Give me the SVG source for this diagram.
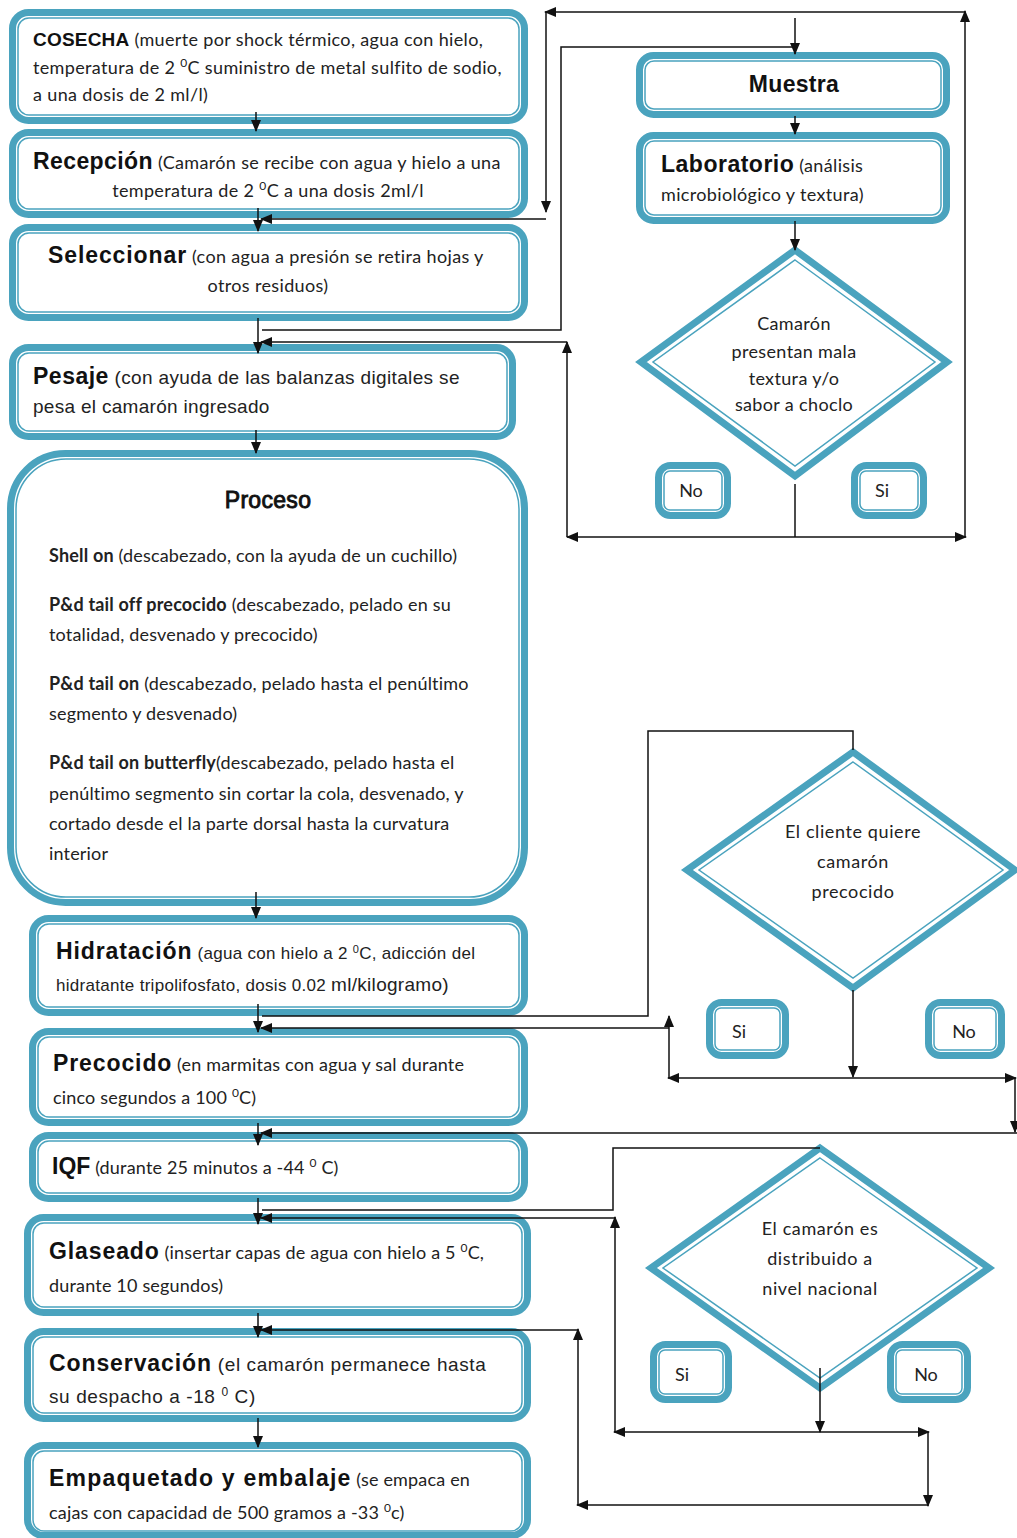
<svg xmlns="http://www.w3.org/2000/svg" width="1017" height="1538" viewBox="0 0 1017 1538">
<style>
.o{fill:#fff;stroke:#4aa3be;stroke-width:7}
.i{fill:none;stroke:#4aa3be;stroke-width:1.5}
.c{fill:none;stroke:#111;stroke-width:1.5}
.h{font-family:"Liberation Sans",Arial,sans-serif;font-weight:bold;fill:#111;font-size:23px;letter-spacing:0.9px}
.b{font-family:Lato,"Liberation Sans",sans-serif;fill:#222;font-size:18px}
.a{font-family:"Liberation Sans",Arial,sans-serif;fill:#222}
.bb{font-weight:bold}
.w1{letter-spacing:0.35px}
.w2{letter-spacing:0.18px}
</style>
<defs>
<marker id="ar" markerWidth="12" markerHeight="10" refX="11" refY="5" orient="auto" markerUnits="userSpaceOnUse">
<path d="M0,0 L12,5 L0,10 z" fill="#111"/>
</marker>
</defs>
<rect width="1017" height="1538" fill="#fff"/>

<g id="cosecha">
<rect class="o" x="12.5" y="12.5" width="512" height="108" rx="16"/>
<rect class="i" x="18" y="18" width="501" height="97" rx="11"/>
<text x="33" y="46"><tspan class="h" style="font-size:19px;letter-spacing:0.2px">COSECHA</tspan><tspan class="b w1"> (muerte por shock térmico, agua con hielo,</tspan></text>
<text class="b w1" x="33" y="74">temperatura de 2 <tspan font-size="12" baseline-shift="super">0</tspan>C  suministro de metal sulfito de sodio,</text>
<text class="b w1" x="33" y="101">a una dosis de 2 ml/l)</text>
</g>

<g id="recepcion">
<rect class="o" x="12.5" y="132.5" width="512" height="82" rx="16"/>
<rect class="i" x="18" y="138" width="501" height="71" rx="11"/>
<text x="33" y="169"><tspan class="h" style="letter-spacing:0.4px">Recepción</tspan><tspan class="b w1">  (Camarón se recibe con agua y hielo a una</tspan></text>
<text class="b w1" x="268" y="197" text-anchor="middle">temperatura de 2 <tspan font-size="12" baseline-shift="super">0</tspan>C a una dosis 2ml/l</text>
</g>

<g id="seleccionar">
<rect class="o" x="12.5" y="227.5" width="512" height="90" rx="16"/>
<rect class="i" x="18" y="233" width="501" height="79" rx="11"/>
<text x="48" y="263"><tspan class="h">Seleccionar</tspan><tspan class="b w1">  (con agua a presión se retira hojas y</tspan></text>
<text class="b w1" x="268" y="292" text-anchor="middle">otros residuos)</text>
</g>

<g id="pesaje">
<rect class="o" x="12.5" y="347.5" width="500" height="89" rx="16"/>
<rect class="i" x="18" y="353" width="489" height="78" rx="11"/>
<text x="33" y="384"><tspan class="h" style="letter-spacing:0.5px">Pesaje</tspan><tspan class="a" font-size="19" letter-spacing="0.35"> (con ayuda de las balanzas digitales se</tspan></text>
<text class="a" x="33" y="413" font-size="19" letter-spacing="0.3">pesa el camarón ingresado</text>
</g>

<g id="proceso">
<rect class="o" x="10.5" y="453.5" width="514" height="449" rx="55"/>
<rect class="i" x="16" y="459" width="503" height="438" rx="50"/>
<text class="h" x="268" y="508" text-anchor="middle" style="letter-spacing:0.3px;font-weight:normal" stroke="#111" stroke-width="0.9">Proceso</text>
<g class="b w2">
<text x="49" y="562"><tspan class="bb">Shell on</tspan> (descabezado, con la ayuda de un cuchillo)</text>
<text x="49" y="611"><tspan class="bb">P&amp;d tail off precocido</tspan> (descabezado, pelado en su</text>
<text x="49" y="641">totalidad, desvenado y precocido)</text>
<text x="49" y="690"><tspan class="bb">P&amp;d tail on</tspan> (descabezado, pelado hasta el penúltimo</text>
<text x="49" y="720">segmento y desvenado)</text>
<text x="49" y="769"><tspan class="bb">P&amp;d tail on butterfly</tspan>(descabezado, pelado hasta el</text>
<text x="49" y="800">penúltimo segmento  sin cortar la cola, desvenado, y</text>
<text x="49" y="830">cortado desde el la parte dorsal hasta la curvatura</text>
<text x="49" y="860">interior</text>
</g>
</g>

<g id="hidratacion">
<rect class="o" x="32.5" y="918.5" width="492" height="94" rx="16"/>
<rect class="i" x="38" y="924" width="481" height="83" rx="11"/>
<text x="56" y="959"><tspan class="h">Hidratación</tspan><tspan class="a" font-size="17" letter-spacing="0.3"> (agua con hielo a 2 <tspan font-size="11" baseline-shift="super">0</tspan>C, adicción del</tspan></text>
<text class="a" x="56" y="991" font-size="17" letter-spacing="0.3">hidratante tripolifosfato, dosis 0.02 <tspan font-size="19">ml/kilogramo)</tspan></text>
</g>

<g id="precocido">
<rect class="o" x="32.5" y="1031.5" width="492" height="91" rx="16"/>
<rect class="i" x="38" y="1037" width="481" height="80" rx="11"/>
<text x="53" y="1071"><tspan class="h">Precocido</tspan><tspan class="b w2"> (en marmitas con agua y sal durante</tspan></text>
<text class="b w2" x="53" y="1104">cinco segundos a 100 <tspan font-size="12" baseline-shift="super">0</tspan>C)</text>
</g>

<g id="iqf">
<rect class="o" x="32.5" y="1135.5" width="492" height="63" rx="16"/>
<rect class="i" x="38" y="1141" width="481" height="52" rx="11"/>
<text x="52" y="1174"><tspan class="h" style="letter-spacing:0px">IQF</tspan><tspan class="b w2"> (durante 25 minutos a -44 <tspan font-size="12" baseline-shift="super">0</tspan> C)</tspan></text>
</g>

<g id="glaseado">
<rect class="o" x="27.5" y="1217.5" width="500" height="95" rx="16"/>
<rect class="i" x="33" y="1223" width="489" height="84" rx="11"/>
<text x="49" y="1259"><tspan class="h">Glaseado</tspan><tspan class="b w2"> (insertar capas de agua con hielo  a 5 <tspan font-size="12" baseline-shift="super">0</tspan>C,</tspan></text>
<text class="b w2" x="49" y="1292">durante 10 segundos)</text>
</g>

<g id="conservacion">
<rect class="o" x="27.5" y="1331.5" width="500" height="87" rx="16"/>
<rect class="i" x="33" y="1337" width="489" height="76" rx="11"/>
<text x="49" y="1371"><tspan class="h">Conservación</tspan><tspan class="a" font-size="19" letter-spacing="0.6">  (el camarón permanece hasta</tspan></text>
<text class="a" x="49" y="1403" font-size="19" letter-spacing="0.6">su despacho a -18 <tspan font-size="12" baseline-shift="super">0</tspan> C)</text>
</g>

<g id="empaquetado">
<rect class="o" x="27.5" y="1445.5" width="500" height="90" rx="16"/>
<rect class="i" x="33" y="1451" width="489" height="80" rx="11"/>
<text x="49" y="1486"><tspan class="h" style="letter-spacing:1.2px">Empaquetado y embalaje</tspan><tspan class="b w2"> (se empaca en</tspan></text>
<text class="b w2" x="49" y="1519">cajas con capacidad de 500 gramos a -33 <tspan font-size="12" baseline-shift="super">0</tspan>c)</text>
</g>

<g id="muestra">
<rect class="o" x="639.5" y="55.5" width="307" height="59" rx="14"/>
<rect class="i" x="645" y="61" width="296" height="48" rx="9"/>
<text class="h" x="794" y="92" text-anchor="middle" style="letter-spacing:0.3px">Muestra</text>
</g>

<g id="laboratorio">
<rect class="o" x="639.5" y="135.5" width="307" height="85" rx="14"/>
<rect class="i" x="645" y="141" width="296" height="74" rx="9"/>
<text x="661" y="172"><tspan class="h" style="letter-spacing:0.5px">Laboratorio</tspan><tspan class="b w1">  (análisis</tspan></text>
<text class="b w1" x="661" y="201">microbiológico y textura)</text>
</g>

<g id="decision1">
<polygon class="o" points="795,250 947,362 795,476 641,362"/>
<polygon class="i" points="795,260 935,362 795,466 653,362"/>
<g class="b w1" text-anchor="middle">
<text x="794" y="330">Camarón</text>
<text x="794" y="358">presentan mala</text>
<text x="794" y="385">textura y/o</text>
<text x="794" y="411">sabor a choclo</text>
</g>
</g>

<g id="no1">
<rect class="o" x="658.5" y="465.5" width="69" height="50" rx="12"/>
<rect class="i" x="664" y="471" width="58" height="39" rx="6"/>
<text class="b" x="691" y="497" text-anchor="middle">No</text>
</g>
<g id="si1">
<rect class="o" x="854.5" y="465.5" width="69" height="50" rx="12"/>
<rect class="i" x="860" y="471" width="58" height="39" rx="6"/>
<text class="b" x="882" y="497" text-anchor="middle">Si</text>
</g>

<g id="decision2">
<polygon class="o" points="853,752 1015,870 853,988 687,870"/>
<polygon class="i" points="853,762 1003,870 853,978 699,870"/>
<g class="b" text-anchor="middle" letter-spacing="0.6">
<text x="853" y="838">El cliente  quiere</text>
<text x="853" y="868">camarón</text>
<text x="853" y="898">precocido</text>
</g>
</g>

<g id="si2">
<rect class="o" x="709.5" y="1002.5" width="76" height="53" rx="12"/>
<rect class="i" x="715" y="1008" width="65" height="42" rx="6"/>
<text class="b" x="739" y="1038" text-anchor="middle">Si</text>
</g>
<g id="no2">
<rect class="o" x="928.5" y="1002.5" width="73" height="53" rx="12"/>
<rect class="i" x="934" y="1008" width="62" height="42" rx="6"/>
<text class="b" x="964" y="1038" text-anchor="middle">No</text>
</g>

<g id="decision3">
<polygon class="o" points="820,1148 989,1268 820,1388 651,1268"/>
<polygon class="i" points="820,1158 977,1268 820,1378 663,1268"/>
<g class="b" text-anchor="middle" letter-spacing="0.6">
<text x="820" y="1235">El camarón es</text>
<text x="820" y="1265">distribuido a</text>
<text x="820" y="1295">nivel nacional</text>
</g>
</g>

<g id="si3">
<rect class="o" x="653.5" y="1344.5" width="75" height="55" rx="12"/>
<rect class="i" x="659" y="1350" width="64" height="44" rx="6"/>
<text class="b" x="682" y="1381" text-anchor="middle">Si</text>
</g>
<g id="no3">
<rect class="o" x="890.5" y="1344.5" width="77" height="55" rx="12"/>
<rect class="i" x="896" y="1350" width="66" height="44" rx="6"/>
<text class="b" x="926" y="1381" text-anchor="middle">No</text>
</g>

<g id="connectors">
<path class="c" d="M256 112 V131" marker-end="url(#ar)"/>
<path class="c" d="M258 208 V231" marker-end="url(#ar)"/>
<path class="c" d="M258 318 V353" marker-end="url(#ar)"/>
<path class="c" d="M262 330 H561 V47 H795"/>
<path class="c" d="M795 18 V54" marker-end="url(#ar)"/>
<path class="c" d="M795 116 V134" marker-end="url(#ar)"/>
<path class="c" d="M795 221 V250" marker-end="url(#ar)"/>
<path class="c" d="M795 484 V537"/>
<path class="c" d="M795 537 H567" marker-end="url(#ar)"/>
<path class="c" d="M795 537 H966" marker-end="url(#ar)"/>
<path class="c" d="M567 537 V342" marker-end="url(#ar)"/>
<path class="c" d="M567 342 H261" marker-end="url(#ar)"/>
<path class="c" d="M965 537 V11" marker-end="url(#ar)"/>
<path class="c" d="M965 12 H545" marker-end="url(#ar)"/>
<path class="c" d="M546 12 V212" marker-end="url(#ar)"/>
<path class="c" d="M546 219 H261" marker-end="url(#ar)"/>
<path class="c" d="M256 430 V453" marker-end="url(#ar)"/>
<path class="c" d="M256 892 V918" marker-end="url(#ar)"/>
<path class="c" d="M258 1004 V1032" marker-end="url(#ar)"/>
<path class="c" d="M262 1016 H648 V731 H853 V750"/>
<path class="c" d="M669 1078 V1016" marker-end="url(#ar)"/>
<path class="c" d="M669 1028 H261" marker-end="url(#ar)"/>
<path class="c" d="M853 990 V1077" marker-end="url(#ar)"/>
<path class="c" d="M853 1078 H668" marker-end="url(#ar)"/>
<path class="c" d="M853 1078 H1016" marker-end="url(#ar)"/>
<path class="c" d="M1015 1078 V1132" marker-end="url(#ar)"/>
<path class="c" d="M1017 1133 H261" marker-end="url(#ar)"/>
<path class="c" d="M258 1123 V1145" marker-end="url(#ar)"/>
<path class="c" d="M258 1198 V1224" marker-end="url(#ar)"/>
<path class="c" d="M262 1210 H613 V1148 H820"/>
<path class="c" d="M615 1432 V1217" marker-end="url(#ar)"/>
<path class="c" d="M615 1218 H261" marker-end="url(#ar)"/>
<path class="c" d="M820 1368 V1432" marker-end="url(#ar)"/>
<path class="c" d="M820 1432 H614" marker-end="url(#ar)"/>
<path class="c" d="M820 1432 H929" marker-end="url(#ar)"/>
<path class="c" d="M928 1432 V1506" marker-end="url(#ar)"/>
<path class="c" d="M928 1505 H577" marker-end="url(#ar)"/>
<path class="c" d="M578 1505 V1329" marker-end="url(#ar)"/>
<path class="c" d="M578 1330 H261" marker-end="url(#ar)"/>
<path class="c" d="M258 1313 V1337" marker-end="url(#ar)"/>
<path class="c" d="M258 1418 V1447" marker-end="url(#ar)"/>
</g>
</svg>
